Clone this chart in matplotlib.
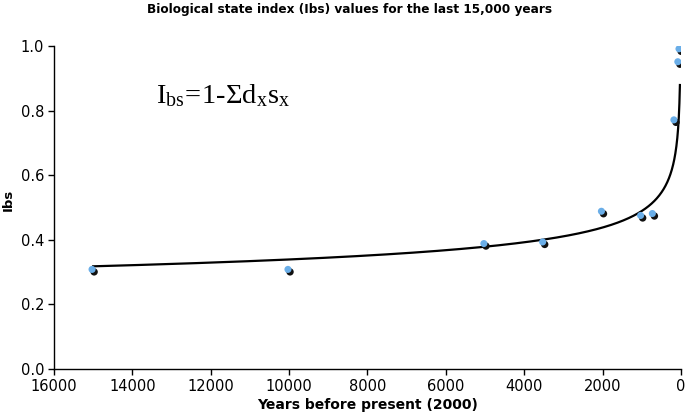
import numpy as np
import matplotlib
matplotlib.use("Agg")
import matplotlib.pyplot as plt
from matplotlib.transforms import ScaledTranslation

# Data
years = [15000, 10000, 5000, 3500, 2000, 1000, 700, 150, 50, 20]
ibs = [0.305, 0.305, 0.385, 0.39, 0.485, 0.472, 0.478, 0.768, 0.948, 0.988]
x_ticks = [16000, 14000, 12000, 10000, 8000, 6000, 4000, 2000, 0]
y_ticks = [0.0, 0.2, 0.4, 0.6, 0.8, 1.0]

# Power trendline shown in the chart: Ibs = a * years^(-b)
trend_a = 1.467
trend_b = 0.159
trend_range = (25, 15000)

title = "Biological state index (Ibs) values for the last 15,000 years"
xlabel = "Years before present (2000)"
ylabel = "Ibs"

plt.rcParams['mathtext.fontset'] = 'custom'
plt.rcParams['mathtext.rm'] = 'Liberation Serif'
plt.rcParams['mathtext.it'] = 'Liberation Serif'

fig = plt.figure(figsize=(6.85, 4.13), dpi=100)
ax = fig.add_axes([0.0788, 0.1065, 0.9152, 0.782])

xs = np.geomspace(trend_range[0], trend_range[1], 400)
ax.plot(xs, trend_a * xs ** (-trend_b), color='black', lw=1.6, zorder=2)

# Spherical-looking markers: dark shadow offset down-right, blue highlight up-left
shadow = ax.transData + ScaledTranslation(0.7 / 72, -1.0 / 72, fig.dpi_scale_trans)
hilite = ax.transData + ScaledTranslation(-0.8 / 72, 0.8 / 72, fig.dpi_scale_trans)
ax.scatter(years, ibs, s=28, color='#111111', edgecolors='none', transform=shadow, zorder=3)
ax.scatter(years, ibs, s=26, color='#6aaee8', edgecolors='none', transform=hilite, zorder=4)

ax.set_xlim(16000, 0)
ax.set_ylim(0, 1.0)
ax.set_xticks(x_ticks)
ax.set_xticklabels([str(v) for v in x_ticks])
ax.set_yticks(y_ticks)
ax.set_yticklabels([f"{v:.1f}" for v in y_ticks])
ax.tick_params(direction='out', length=4, width=1, labelsize=10.5, colors='black', pad=3)
for s in ['top', 'right']:
    ax.spines[s].set_visible(False)
for s in ['left', 'bottom']:
    ax.spines[s].set_linewidth(1)
    ax.spines[s].set_color('black')

ax.set_xlabel(xlabel, fontsize=10, fontweight='bold', labelpad=3)
ax.set_ylabel(ylabel, fontsize=9.5, fontweight='bold')
ax.yaxis.set_label_coords(-0.062, 0.523)
fig.text(0.51, 0.977, title, ha='center', va='center', fontsize=8.7, fontweight='bold')

ax.text(0.163, 0.8235, r'$\mathrm{I_{bs}\!=\!1\text{-}\Sigma d_x s_x}$', transform=ax.transAxes,
        fontsize=20.5, ha='left', va='baseline')

fig.savefig('out.png', dpi=100)
